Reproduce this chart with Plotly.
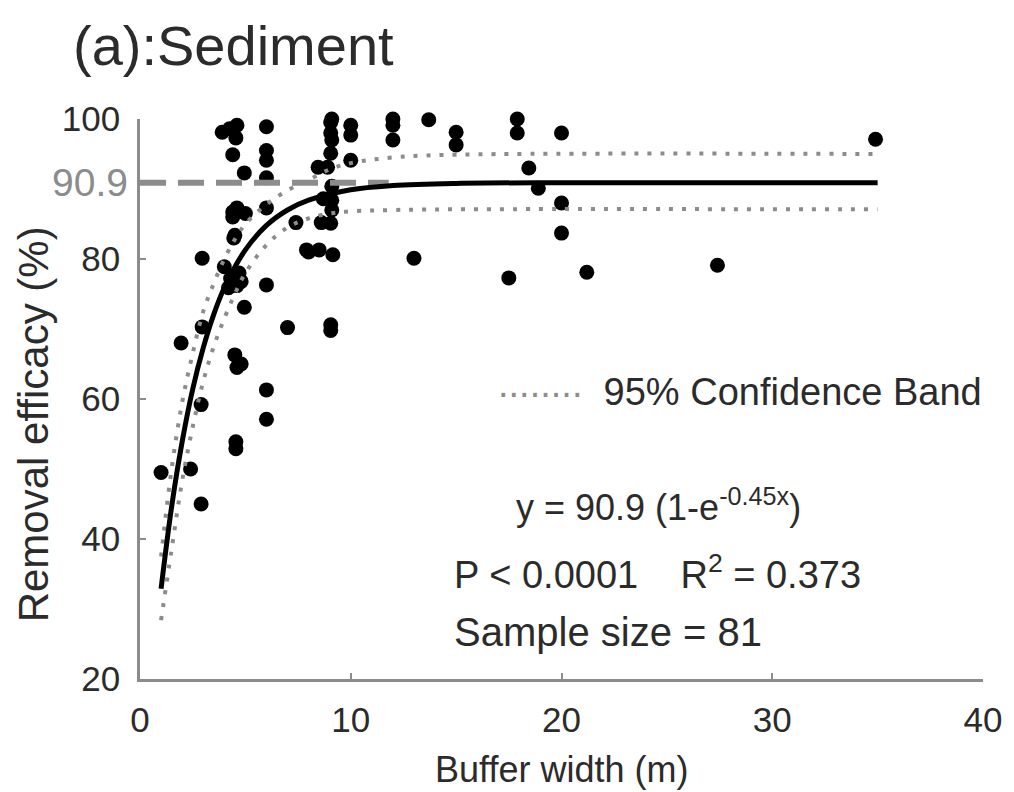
import plotly.graph_objects as go

# Observations: buffer width (m) and removal efficacy (%)
obs_x = [1.0, 1.95, 2.4, 2.9, 2.9, 2.95, 2.95, 4.0, 3.9, 4.6, 4.55, 4.4, 4.95, 4.4, 4.6,
         4.5, 4.2, 4.6, 4.95, 4.5, 4.8, 4.6, 4.55, 4.55, 6.0, 6.0, 6.0, 6.0, 6.0, 6.0,
         6.0, 7.0, 7.4, 8.6, 7.9, 8.5, 9.15, 8.45, 8.9, 9.1, 9.05, 9.05, 9.1, 9.05, 9.05,
         9.05, 10.0, 10.0, 10.0, 12.0, 12.0, 12.0, 13.7, 15.0, 15.0, 13.0, 17.9, 17.9, 17.5,
         18.45, 18.9, 20.0, 20.0, 20.0, 21.2, 27.4, 34.9, 4.25, 4.4, 9.1, 8.7, 4.3, 9.1,
         5.0, 4.7, 8.0, 9.05, 4.45, 6.0, 4.8, 9.1]
obs_y = [49.5, 68.0, 50.0, 45.0, 59.2, 80.1, 70.3, 78.9, 98.1, 99.1, 97.3, 94.9, 92.3, 86.7, 87.3,
         83.4, 75.9, 76.2, 73.1, 66.3, 65.0, 64.5, 53.9, 52.9, 98.9, 94.1, 91.6, 87.3, 76.3, 61.3,
         57.1, 70.2, 85.2, 85.2, 81.3, 81.3, 80.6, 93.1, 93.1, 100.0, 98.0, 95.1, 88.4, 85.1, 70.6,
         69.8, 99.1, 97.7, 94.1, 100.0, 99.1, 97.0, 99.9, 98.1, 96.3, 80.1, 100.0, 98.0, 77.3,
         93.0, 90.1, 98.0, 88.0, 83.7, 78.1, 79.1, 97.1, 98.6, 86.0, 90.4, 88.6, 77.2, 97.0,
         86.5, 78.0, 81.0, 99.5, 83.0, 95.5, 76.8, 87.0]

# Fitted curve
fit_x = [1, 1.5, 2, 2.5, 3, 3.5, 4, 5, 6, 7, 8, 10, 12, 15, 20, 35]
fit_y = [32.9, 44.6, 53.9, 61.4, 67.3, 72.1, 75.9, 81.3, 84.8, 87.0, 88.4, 89.9, 90.5, 90.8, 90.9, 90.9]

# 95% confidence band
band_x = [1, 1.5, 2, 2.5, 3, 3.5, 4, 4.5, 5, 6, 7, 8, 9, 10, 12, 15, 35]
band_upper = [37.5, 50.0, 59.5, 66.5, 72.5, 76.5, 80.0, 82.8, 85.0, 87.8, 89.8, 91.3, 92.8, 93.7, 94.5, 94.9, 95.0]
band_lower = [28.4, 38.5, 48.3, 56.0, 62.5, 67.5, 71.5, 75.0, 78.0, 82.0, 84.5, 85.8, 86.5, 86.8, 87.0, 87.1, 87.1]

asym_x = [0, 11.8]
asym_y = [90.9, 90.9]

x_ticks = [0, 10, 20, 30, 40]
y_ticks = [20, 40, 60, 80, 100]

FONT = "Liberation Sans, Arial, sans-serif"
GRAY = "#8c8c8c"
TXT = "#2b2b2b"

fig = go.Figure()
fig.add_trace(go.Scatter(x=obs_x, y=obs_y, mode="markers",
                         marker=dict(color="black", size=15, line=dict(width=0)),
                         cliponaxis=False, showlegend=False))
fig.add_trace(go.Scatter(x=band_x, y=band_upper, mode="lines", line_shape="spline",
                         line=dict(color=GRAY, width=4, dash="4px,9px"), showlegend=False))
fig.add_trace(go.Scatter(x=band_x, y=band_lower, mode="lines", line_shape="spline",
                         line=dict(color=GRAY, width=4, dash="4px,9px"), showlegend=False))
fig.add_trace(go.Scatter(x=asym_x, y=asym_y, mode="lines",
                         line=dict(color=GRAY, width=6, dash="26px,12px"),
                         cliponaxis=False, showlegend=False))
fig.add_trace(go.Scatter(x=fit_x, y=fit_y, mode="lines", line_shape="spline",
                         line=dict(color="black", width=5), showlegend=False))

# plot area in page pixels: x 140..992, y 119..679
fig.update_layout(
    width=1014, height=792,
    margin=dict(l=140, r=22, t=119, b=113),
    paper_bgcolor="white", plot_bgcolor="white",
    font=dict(family=FONT, color=TXT),
    xaxis=dict(range=[0, 40], tickvals=x_ticks, showgrid=False, zeroline=False,
               showline=True, linecolor=GRAY, linewidth=2.5,
               ticks="inside", ticklen=6, tickcolor=GRAY, tickwidth=2,
               ticklabelstandoff=8,
               tickfont=dict(size=35, color=TXT, family=FONT)),
    yaxis=dict(range=[20, 100], tickvals=y_ticks, showgrid=False, zeroline=False,
               showline=True, linecolor=GRAY, linewidth=2.5,
               ticks="inside", ticklen=6, tickcolor=GRAY, tickwidth=2,
               ticklabelstandoff=10,
               tickfont=dict(size=35, color=TXT, family=FONT)),
)

ann = [
    dict(text="(a):Sediment", xref="paper", yref="paper", x=-0.082, y=(679 - 45) / 560,
         xanchor="left", yanchor="middle", font=dict(size=56)),
    dict(text="Removal efficacy (%)", xref="paper", yref="paper", x=(32 - 140) / 852, y=0.455,
         xanchor="center", yanchor="middle", textangle=-90, font=dict(size=42)),
    dict(text="Buffer width (m)", xref="paper", yref="paper", x=0.5, y=(679 - 769) / 560,
         xanchor="center", yanchor="middle", font=dict(size=36)),
    dict(text="90.9", xref="x", yref="y", x=0, y=90.9, xshift=-10,
         xanchor="right", yanchor="middle", font=dict(size=39, color=GRAY)),
    dict(text='<span style="color:#8c8c8c">∙∙∙∙∙∙∙∙</span>  95% Confidence Band',
         xref="paper", yref="paper", x=(500 - 140) / 852, y=(679 - 392) / 560,
         xanchor="left", yanchor="middle", font=dict(size=38)),
    dict(text="y = 90.9 (1-e<sup>-0.45x</sup>)", xref="paper", yref="paper",
         x=(664 - 140) / 852, y=(679 - 505) / 560,
         xanchor="center", yanchor="middle", font=dict(size=36)),
    dict(text="P < 0.0001    R<sup>2</sup> = 0.373", xref="paper", yref="paper",
         x=(455 - 140) / 852, y=(679 - 572) / 560,
         xanchor="left", yanchor="middle", font=dict(size=38)),
    dict(text="Sample size = 81", xref="paper", yref="paper",
         x=(455 - 140) / 852, y=(679 - 632) / 560,
         xanchor="left", yanchor="middle", font=dict(size=40)),
]
for a in ann:
    a["showarrow"] = False
    fig.add_annotation(**a)

# remove the browser's default 8px body margin so the figure fills the window exactly
fig.write_html("out.html",
               config={"displayModeBar": False},
               post_script="document.body.style.margin='0';"
                           "document.body.style.overflow='hidden';"
                           "document.documentElement.style.overflow='hidden';")
